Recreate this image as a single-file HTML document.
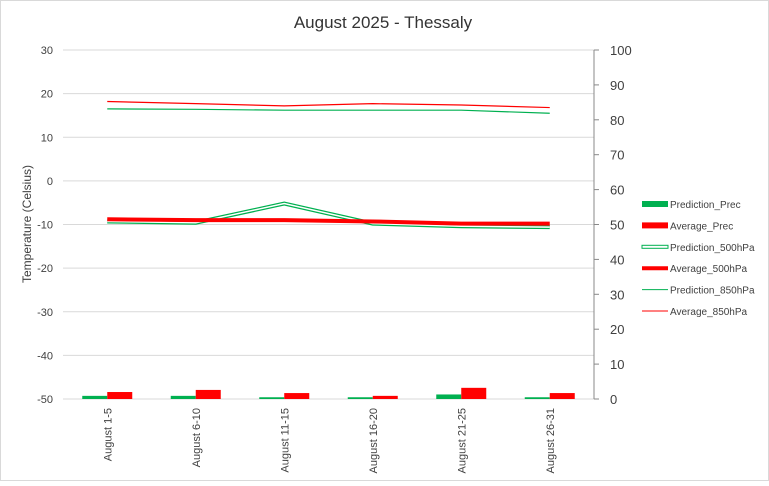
<!DOCTYPE html>
<html><head><meta charset="utf-8"><style>
body{margin:0;background:#fff;font-family:"Liberation Sans",sans-serif}
svg text{font-family:"Liberation Sans",sans-serif;fill:#404040}
</style></head><body>
<svg width="769" height="481" viewBox="0 0 769 481">
<rect x="0.5" y="0.5" width="768" height="480" fill="#fff" stroke="#d9d9d9"/>
<text x="383" y="28" text-anchor="middle" font-size="17" style="fill:#333">August 2025 - Thessaly</text>
<text transform="translate(31,224) rotate(-90)" text-anchor="middle" font-size="12">Temperature  (Celsius)</text>
<g id="grid"></g><g id="bars"></g><g id="lines"></g><g id="axes"></g>
<g id="legend"></g>
</svg>
<script>
const categories=["August 1-5","August 6-10","August 11-15","August 16-20","August 21-25","August 26-31"];
const predPrec=[0.9,0.9,0.5,0.5,1.3,0.5];
const avgPrec=[2.0,2.6,1.7,0.9,3.2,1.7];
const pred500=[-9.3,-9.6,-5.2,-9.8,-10.4,-10.6];
const avg500=[-8.8,-9.0,-9.0,-9.3,-9.8,-9.8];
const pred850=[16.5,16.4,16.2,16.2,16.2,15.5];
const avg850=[18.2,17.7,17.2,17.7,17.4,16.8];
const leftTicks=[30,20,10,0,-10,-20,-30,-40,-50];
const rightTicks=[100,90,80,70,60,50,40,30,20,10,0];
const NS="http://www.w3.org/2000/svg";
const X0=63,X1=594,YT=50,YB=399;
const cw=(X1-X0)/categories.length;
const xc=i=>X0+cw*(i+0.5);
const yL=v=>YB-(v+50)/80*(YB-YT);
const yR=v=>YB-v/100*(YB-YT);
function mk(tag,attrs,parent){const e=document.createElementNS(NS,tag);for(const k in attrs)e.setAttribute(k,attrs[k]);document.getElementById(parent).appendChild(e);return e;}
leftTicks.forEach(t=>{
 const l=mk('line',{x1:X0,x2:X1,y1:yL(t),y2:yL(t),stroke:'#d9d9d9'},'grid');
 
 
 const tx=mk('text',{x:53,y:yL(t)+4,'text-anchor':'end','font-size':11},'axes');
 tx.textContent=t;
 
 
});
const ax=mk('line',{x1:X1,x2:X1,y1:YT,y2:YB,stroke:'#888'},'axes');


rightTicks.forEach(t=>{
 const tk=mk('line',{x1:X1,x2:X1+5,y1:yR(t),y2:yR(t),stroke:'#888'},'axes');
 
 
 const tx=mk('text',{x:610,y:yR(t)+5,'font-size':13},'axes');
 tx.textContent=t;
 
 
});
categories.forEach((c,i)=>{
 const tx=mk('text',{transform:`translate(${xc(i)+4},408) rotate(-90)`,'text-anchor':'end','font-size':11},'axes');
 tx.textContent=c;
 
 
 const b1=mk('rect',{x:xc(i)-25,y:yR(predPrec[i]),width:25,height:YB-yR(predPrec[i]),fill:'#00b050'},'bars');
 
 
 const b2=mk('rect',{x:xc(i),y:yR(avgPrec[i]),width:25,height:YB-yR(avgPrec[i]),fill:'#ff0000'},'bars');
 
 
});
const pts=a=>a.map((v,i)=>xc(i)+','+yL(v)).join(' ');
let p=mk('polyline',{points:pts(pred500),fill:'none',stroke:'#00b050','stroke-width':4},'lines');


p=mk('polyline',{points:pts(pred500),fill:'none',stroke:'#fff','stroke-width':1.5},'lines');


p=mk('polyline',{points:pts(avg500),fill:'none',stroke:'#ff0000','stroke-width':4},'lines');


p=mk('polyline',{points:pts(pred850),fill:'none',stroke:'#00b050','stroke-width':1.2},'lines');


p=mk('polyline',{points:pts(avg850),fill:'none',stroke:'#ff0000','stroke-width':1.2},'lines');


const leg=[["Prediction_Prec","bar","#00b050"],["Average_Prec","bar","#ff0000"],["Prediction_500hPa","double","#00b050"],["Average_500hPa","thick","#ff0000"],["Prediction_850hPa","thin","#00b050"],["Average_850hPa","thin","#ff0000"]];
leg.forEach((e,i)=>{
 const y=204+i*21.4;
 let s;
 if(e[1]=='bar'){s=mk('rect',{x:642,y:y-3,width:26,height:6,fill:e[2]},'legend');}
 else if(e[1]=='double'){s=mk('rect',{x:642,y:y-1.5,width:26,height:3,fill:'#fff',stroke:e[2],'stroke-width':1},'legend');}
 else{s=mk('line',{x1:642,x2:668,y1:y,y2:y,stroke:e[2],'stroke-width':e[1]=='thick'?4:1},'legend');}
 
 
 const t=mk('text',{x:670,y:y+4,'font-size':10},'legend');
 t.textContent=e[0];
 
 
});
</script>
</body></html>
